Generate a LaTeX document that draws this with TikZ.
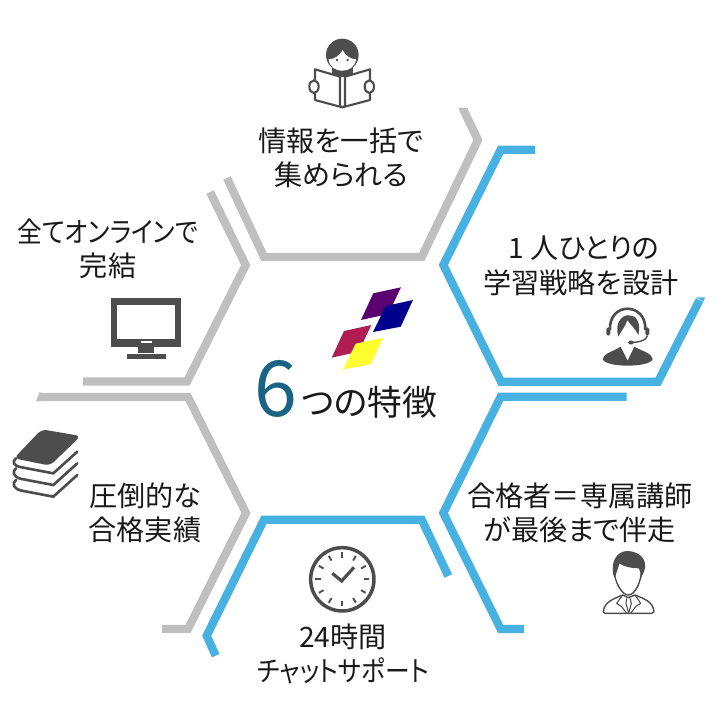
\documentclass[tikz,border=0pt]{standalone}
\usepackage{fontspec}
\setmainfont[RawFeature=+palt]{Noto Sans CJK JP}
\definecolor{hexgray}{HTML}{BFBFBF}
\definecolor{hexblue}{HTML}{47B1E2}
\definecolor{icondark}{HTML}{4D4D4D}
\definecolor{sixblue}{HTML}{1A6385}
\definecolor{logopurple}{RGB}{90,0,112}
\definecolor{logoblue}{RGB}{0,0,143}
\definecolor{logored}{RGB}{176,28,84}
\definecolor{logoyellow}{RGB}{255,255,47}
\def\narrowtext#1{\scalebox{0.88}[1]{#1}}
\tikzset{
	hexgrayline/.style={line width=4.7pt, color=hexgray, miter limit=10},
	hexblueline/.style={line width=4.7pt, color=hexblue, miter limit=10},
	caption/.style={font=\fontsize{16}{19.6}\selectfont, align=center, text=black!90, inner sep=0pt},
	iconline/.style={draw=icondark, line width=1.2pt, line join=round}
}

\begin{document}
\begin{tikzpicture}[x=0.02cm, y=-0.02cm]
			%%%%% START %%%%%
			\useasboundingbox (0, 0) rectangle (724, 723);
			
			% hexagons
			\draw[hexgrayline] (464, 111) -- (478, 140) -- (421.7, 257) -- (264, 257) -- (227, 178);
			\fill[hexgray] (458.5, 108) -- (467.5, 108) -- (467.8, 110) -- (460.2, 112.8) -- cycle;
			\draw[hexgrayline] (210, 192) -- (245.7, 265) -- (187, 381.5) -- (83, 381.5);
			\draw[hexgrayline] (40, 397) -- (188, 397) -- (246, 513) -- (188, 629) -- (162, 629);
			\fill[hexgray] (39.3, 392.6) -- (36, 401.3) -- (40.5, 401.3) -- (40.5, 392.6) -- cycle;
			\draw[hexblueline] (535, 149.7) -- (500.7, 149.7) -- (443.3, 265) -- (501, 381.7) -- (658, 381.7) -- (699.6, 300);
			\fill[hexblue] (696.6, 297.4) -- (705, 297.4) -- (703.5, 301.5) -- cycle;
			\draw[hexblueline] (626.7, 396.7) -- (500.7, 396.7) -- (443.3, 513) -- (500.7, 629) -- (524, 629);
			\draw[hexblueline] (215.7, 655.7) -- (206.7, 635.7) -- (264, 519.7) -- (421.7, 519.7) -- (448.3, 576);
			
			% logo
			\fill[logopurple] (373.3, 293.3) -- (401, 287.3) -- (388.3, 314) -- (361, 320) -- cycle;
			\fill[logoblue] (385.7, 306) -- (413, 300) -- (400.7, 326.7) -- (373, 332) -- cycle;
			\fill[logored] (344, 331) -- (371.3, 325) -- (358.7, 351.7) -- (331.7, 357.7) -- cycle;
			\fill[logoyellow] (355.7, 343.7) -- (383.3, 337.7) -- (370.7, 364.3) -- (343.3, 369.3) -- cycle;
			
			% centre title
			\node[font=\fontsize{44}{44}\selectfont, text=sixblue, inner sep=0pt] (six) at (276, 389) {6};
			\node[font=\fontsize{19.8}{20}\selectfont, text=black!90, inner sep=0pt] (title) at (369, 402) {つの特徴};
			
			% captions
			\node[caption] (info) at (341, 158) {情報を一括で\\集められる};
			\node[caption] (online) at (108, 249) {\narrowtext{全てオンラインで}\\完結};
			\node[caption] (plan) at (584, 266) {1 人ひとりの\\\hspace*{-3.5pt}学習戦略を設計};
			\node[caption] (tutor) at (580, 513) {合格者＝専属講師\\が最後まで伴走};
			\node[caption] (record) at (145, 513) {圧倒的な\\合格実績};
			\node[caption] (chat) at (343, 654) {24時間\\\narrowtext{チャットサポート}};
			
			% reader
			\begin{scope}[shift={(290, 30)}, scale=0.3333]
				\fill[icondark] (157, 75) circle (49);
				\fill[icondark] (125, 110) rectangle (190, 142);
				\fill[white] (116, 88) .. controls (135, 88) and (150, 75) .. (158, 60) .. controls (165, 75) and (180, 88) .. (198, 88) .. controls (195, 110) and (178, 122) .. (157, 122) .. controls (135, 122) and (118, 110) .. (116, 88);
				\fill[icondark] (141, 90) circle (4);
				\fill[icondark] (173, 90) circle (4);
				\draw[iconline, fill=white] (75, 118) -- (150, 140) -- (150, 228) -- (157, 232) -- (75, 210) -- cycle;
				\draw[iconline, fill=white] (240, 118) -- (165, 140) -- (165, 228) -- (157, 232) -- (240, 210) -- cycle;
				\draw[iconline, fill=white] (72, 170) ellipse (14 and 19);
				\draw[iconline, fill=white] (238, 170) ellipse (14 and 19);
			\end{scope}
			
			% operator
			\begin{scope}[shift={(590, 295)}, scale=0.3333]
				\draw[icondark, line width=1.5pt] (60, 105) .. controls (55, 20) and (170, 20) .. (166, 105);
				\fill[icondark, rounded corners=1pt] (49, 97) rectangle (61, 122);
				\fill[icondark, rounded corners=1pt] (166, 97) rectangle (178, 122);
				\fill[icondark] (85, 125) .. controls (62, 45) and (165, 35) .. (145, 120) .. controls (135, 100) and (122, 90) .. (112, 75) .. controls (106, 95) and (95, 105) .. (85, 125);
				\draw[icondark, line width=0.8pt] (172, 122) .. controls (170, 135) and (150, 142) .. (125, 142);
				\fill[icondark, rounded corners=1pt] (114, 137) rectangle (132, 148);
				\fill[icondark] (38, 192) .. controls (40, 175) and (70, 170) .. (92, 155) -- (113, 197) -- (133, 155) .. controls (160, 170) and (185, 175) .. (188, 192) .. controls (185, 205) and (150, 212) .. (113, 212) .. controls (75, 212) and (42, 205) .. (38, 192);
			\end{scope}
			
			% tutor
			\begin{scope}[shift={(590, 545)}, scale=0.3333]
				\draw[iconline, line width=0.8pt, fill=white] (40, 200) .. controls (42, 170) and (75, 160) .. (98, 150) -- (115, 158) -- (135, 150) .. controls (160, 160) and (190, 170) .. (192, 200) -- (185, 205) -- (45, 205) -- cycle;
				\draw[iconline, line width=0.8pt] (72, 70) .. controls (72, 110) and (95, 150) .. (115, 150) .. controls (135, 150) and (155, 110) .. (155, 70);
				\draw[iconline, line width=0.6pt] (98, 150) -- (80, 175) -- (95, 185) -- (110, 205);
				\draw[iconline, line width=0.6pt] (135, 150) -- (152, 175) -- (137, 185) -- (122, 205);
				\draw[iconline, line width=0.6pt] (110, 160) -- (108, 175) -- (116, 205) -- (124, 175) -- (120, 160);
				\fill[icondark] (70, 90) .. controls (62, 50) and (80, 20) .. (110, 18) .. controls (145, 18) and (170, 40) .. (165, 70) .. controls (163, 80) and (158, 90) .. (153, 98) .. controls (152, 85) and (150, 75) .. (146, 70) .. controls (125, 70) and (100, 65) .. (88, 55) .. controls (85, 70) and (78, 85) .. (75, 98) -- cycle;
			\end{scope}
			
			% books
			\begin{scope}[shift={(0, 420)}, scale=0.3333]
				\fill[icondark, rounded corners=3pt] (125, 28) -- (242, 48) -- (150, 137) -- (42, 115) -- cycle;
				\draw[icondark, line width=1.5pt, line cap=round] (232, 95) -- (160, 160) -- (65, 142) .. controls (40, 138) and (35, 125) .. (48, 115);
				\draw[icondark, line width=1.5pt, line cap=round] (232, 130) -- (160, 195) -- (65, 177) .. controls (40, 172) and (35, 155) .. (48, 145);
				\draw[icondark, line width=1.5pt, line cap=round] (232, 165) -- (160, 230) -- (65, 212) .. controls (40, 207) and (35, 190) .. (48, 180);
			\end{scope}
			
			% monitor
			\begin{scope}[shift={(100, 290)}, scale=0.3333]
				\fill[icondark] (33, 25) rectangle (243, 172);
				\fill[white] (52, 45) rectangle (224, 146);
				\fill[white] (122, 153) rectangle (155, 160);
				\fill[icondark] (115, 172) rectangle (163, 188);
				\fill[icondark] (80, 192) rectangle (198, 207);
			\end{scope}
			
			% clock
			\begin{scope}[shift={(150, 490)}, scale=0.3333]
				\draw[icondark, line width=2pt] (577, 268) circle (95);
				\foreach \a in {0,30,...,330}
					\draw[icondark, line width=1.1pt] ({577+65*cos(\a)}, {268+65*sin(\a)}) -- ({577+81*cos(\a)}, {268+81*sin(\a)});
				\draw[icondark, line width=1.8pt, line join=miter] (547, 250) -- (575, 273) -- (612, 232);
			\end{scope}
			
			%%%%% END %%%%%
		\end{tikzpicture}
\end{document}
